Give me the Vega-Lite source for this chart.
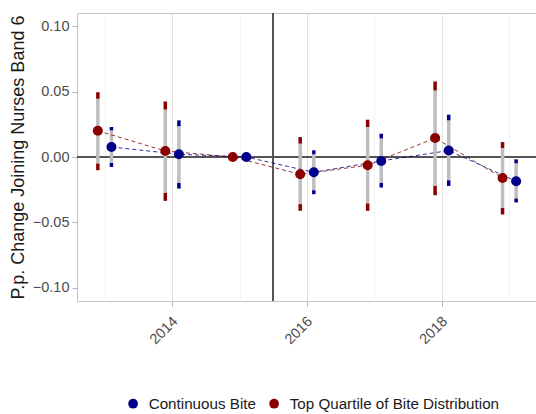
{
  "$schema": "https://vega.github.io/schema/vega-lite/v6.json",
  "width": 460,
  "height": 288,
  "autosize": "none",
  "padding": {"left": 77, "top": 13, "right": 0, "bottom": 113},
  "config": {
    "font": "Liberation Sans",
    "view": {"stroke": "#c4c4c4", "strokeWidth": 1},
    "axis": {
      "domain": false,
      "tickColor": "#b3b3b3",
      "tickSize": 5,
      "labelColor": "#4d4d4d",
      "labelFontSize": 14.5,
      "labelFont": "Liberation Sans",
      "titleFont": "Liberation Sans",
      "titleFontWeight": "normal",
      "titleColor": "#1a1a1a"
    }
  },
  "data": {
    "values": [
      {"series": "Top Quartile of Bite Distribution", "year": 2013, "est": 0.020, "lo": -0.0101, "lo_in": -0.0050, "hi_in": 0.0445, "hi": 0.0495},
      {"series": "Top Quartile of Bite Distribution", "year": 2014, "est": 0.0046, "lo": -0.0335, "lo_in": -0.0274, "hi_in": 0.0363, "hi": 0.0424},
      {"series": "Top Quartile of Bite Distribution", "year": 2015, "est": 0.0},
      {"series": "Top Quartile of Bite Distribution", "year": 2016, "est": -0.0132, "lo": -0.0411, "lo_in": -0.0360, "hi_in": 0.0102, "hi": 0.0152},
      {"series": "Top Quartile of Bite Distribution", "year": 2017, "est": -0.0063, "lo": -0.0411, "lo_in": -0.0355, "hi_in": 0.0229, "hi": 0.0285},
      {"series": "Top Quartile of Bite Distribution", "year": 2018, "est": 0.0145, "lo": -0.0292, "lo_in": -0.0221, "hi_in": 0.0508, "hi": 0.0577},
      {"series": "Top Quartile of Bite Distribution", "year": 2019, "est": -0.0160, "lo": -0.0439, "lo_in": -0.0389, "hi_in": 0.0069, "hi": 0.0114},
      {"series": "Continuous Bite", "year": 2013, "est": 0.0076, "lo": -0.0076, "lo_in": -0.0046, "hi_in": 0.0203, "hi": 0.0229},
      {"series": "Continuous Bite", "year": 2014, "est": 0.0021, "lo": -0.0241, "lo_in": -0.0198, "hi_in": 0.0236, "hi": 0.0280},
      {"series": "Continuous Bite", "year": 2015, "est": 0.0},
      {"series": "Continuous Bite", "year": 2016, "est": -0.0117, "lo": -0.0284, "lo_in": -0.0254, "hi_in": 0.0021, "hi": 0.0051},
      {"series": "Continuous Bite", "year": 2017, "est": -0.0030, "lo": -0.0233, "lo_in": -0.0198, "hi_in": 0.0142, "hi": 0.0178},
      {"series": "Continuous Bite", "year": 2018, "est": 0.0049, "lo": -0.0221, "lo_in": -0.0178, "hi_in": 0.0280, "hi": 0.0323},
      {"series": "Continuous Bite", "year": 2019, "est": -0.0185, "lo": -0.0347, "lo_in": -0.0317, "hi_in": -0.0048, "hi": -0.0018}
    ]
  },
  "encoding": {
    "x": {
      "field": "year",
      "type": "quantitative",
      "scale": {"domain": [2012.59, 2019.41], "nice": false, "zero": false},
      "axis": {
        "title": null,
        "values": [2013, 2014, 2015, 2016, 2017, 2018, 2019],
        "labelExpr": "datum.value % 2 == 0 ? datum.label : ''",
        "format": "d",
        "labelAngle": -45,
        "labelAlign": "right",
        "labelBaseline": "top",
        "labelPadding": 8,
        "labelOffset": -2,
        "tickOpacity": {"condition": {"test": "datum.value % 2 == 0", "value": 1}, "value": 0},
        "gridColor": {"condition": {"test": "datum.value % 2 == 0", "value": "#e3e3e3"}, "value": "#f1f1f1"},
        "gridWidth": {"condition": {"test": "datum.value % 2 == 0", "value": 1}, "value": 0.8}
      }
    },
    "color": {
      "field": "series",
      "type": "nominal",
      "scale": {"domain": ["Continuous Bite", "Top Quartile of Bite Distribution"], "range": ["#00008B", "#8B0000"]},
      "legend": {
        "title": null,
        "orient": "none",
        "direction": "horizontal",
        "legendX": 48.5,
        "legendY": 383,
        "symbolType": "circle",
        "symbolSize": 95,
        "symbolStrokeWidth": 0,
        "symbolOpacity": 1,
        "labelFontSize": 15.2,
        "labelColor": "#1a1a1a",
        "labelLimit": 0,
        "labelOffset": 8,
        "columnPadding": 10
      }
    }
  },
  "layer": [
    {
      "mark": {"type": "rule", "color": "#555555", "strokeWidth": 1},
      "encoding": {
        "y": {
          "datum": 0,
          "type": "quantitative",
          "scale": {"domain": [-0.11, 0.11], "nice": false},
          "axis": {
            "title": "P.p. Change Joining Nurses Band 6",
            "titleFontSize": 18,
            "titleX": -58.5,
            "titleBaseline": "middle",
            "values": [-0.1, -0.075, -0.05, -0.025, 0, 0.025, 0.05, 0.075, 0.1],
            "labelExpr": "abs(round(datum.value * 1000)) % 50 == 0 ? format(datum.value, '.2f') : ''",
            "labelPadding": 3,
            "tickOpacity": {"condition": {"test": "abs(round(datum.value * 1000)) % 50 == 0", "value": 1}, "value": 0},
            "gridColor": {"condition": {"test": "abs(round(datum.value * 1000)) % 50 == 0", "value": "#e3e3e3"}, "value": "#f1f1f1"}
          }
        },
        "x": null, "color": null
      }
    },
    {
      "mark": {"type": "rule", "color": "#555555", "strokeWidth": 1},
      "encoding": {"x": {"datum": 2015.5, "type": "quantitative"}, "color": null}
    },
    {
      "mark": {"type": "rule", "color": "#bebebe", "strokeWidth": 3.5, "xOffset": {"expr": "datum.series == 'Continuous Bite' ? 6.8 : -6.8"}},
      "encoding": {"y": {"field": "lo_in", "type": "quantitative"}, "y2": {"field": "hi_in"}, "detail": {"field": "series"}, "color": null}
    },
    {
      "mark": {"type": "rule", "strokeWidth": 3.5, "xOffset": {"expr": "datum.series == 'Continuous Bite' ? 6.8 : -6.8"}},
      "encoding": {"y": {"field": "lo", "type": "quantitative"}, "y2": {"field": "lo_in"}}
    },
    {
      "mark": {"type": "rule", "strokeWidth": 3.5, "xOffset": {"expr": "datum.series == 'Continuous Bite' ? 6.8 : -6.8"}},
      "encoding": {"y": {"field": "hi_in", "type": "quantitative"}, "y2": {"field": "hi"}}
    },
    {
      "mark": {"type": "line", "strokeWidth": 1, "strokeDash": [4, 3], "opacity": 0.8, "xOffset": {"expr": "datum.series == 'Continuous Bite' ? 6.8 : -6.8"}},
      "encoding": {"y": {"field": "est", "type": "quantitative"}}
    },
    {
      "mark": {"type": "point", "filled": true, "size": 100, "opacity": 1, "shape": "circle", "xOffset": {"expr": "datum.series == 'Continuous Bite' ? 6.8 : -6.8"}},
      "encoding": {"y": {"field": "est", "type": "quantitative"}}
    }
  ]
}
